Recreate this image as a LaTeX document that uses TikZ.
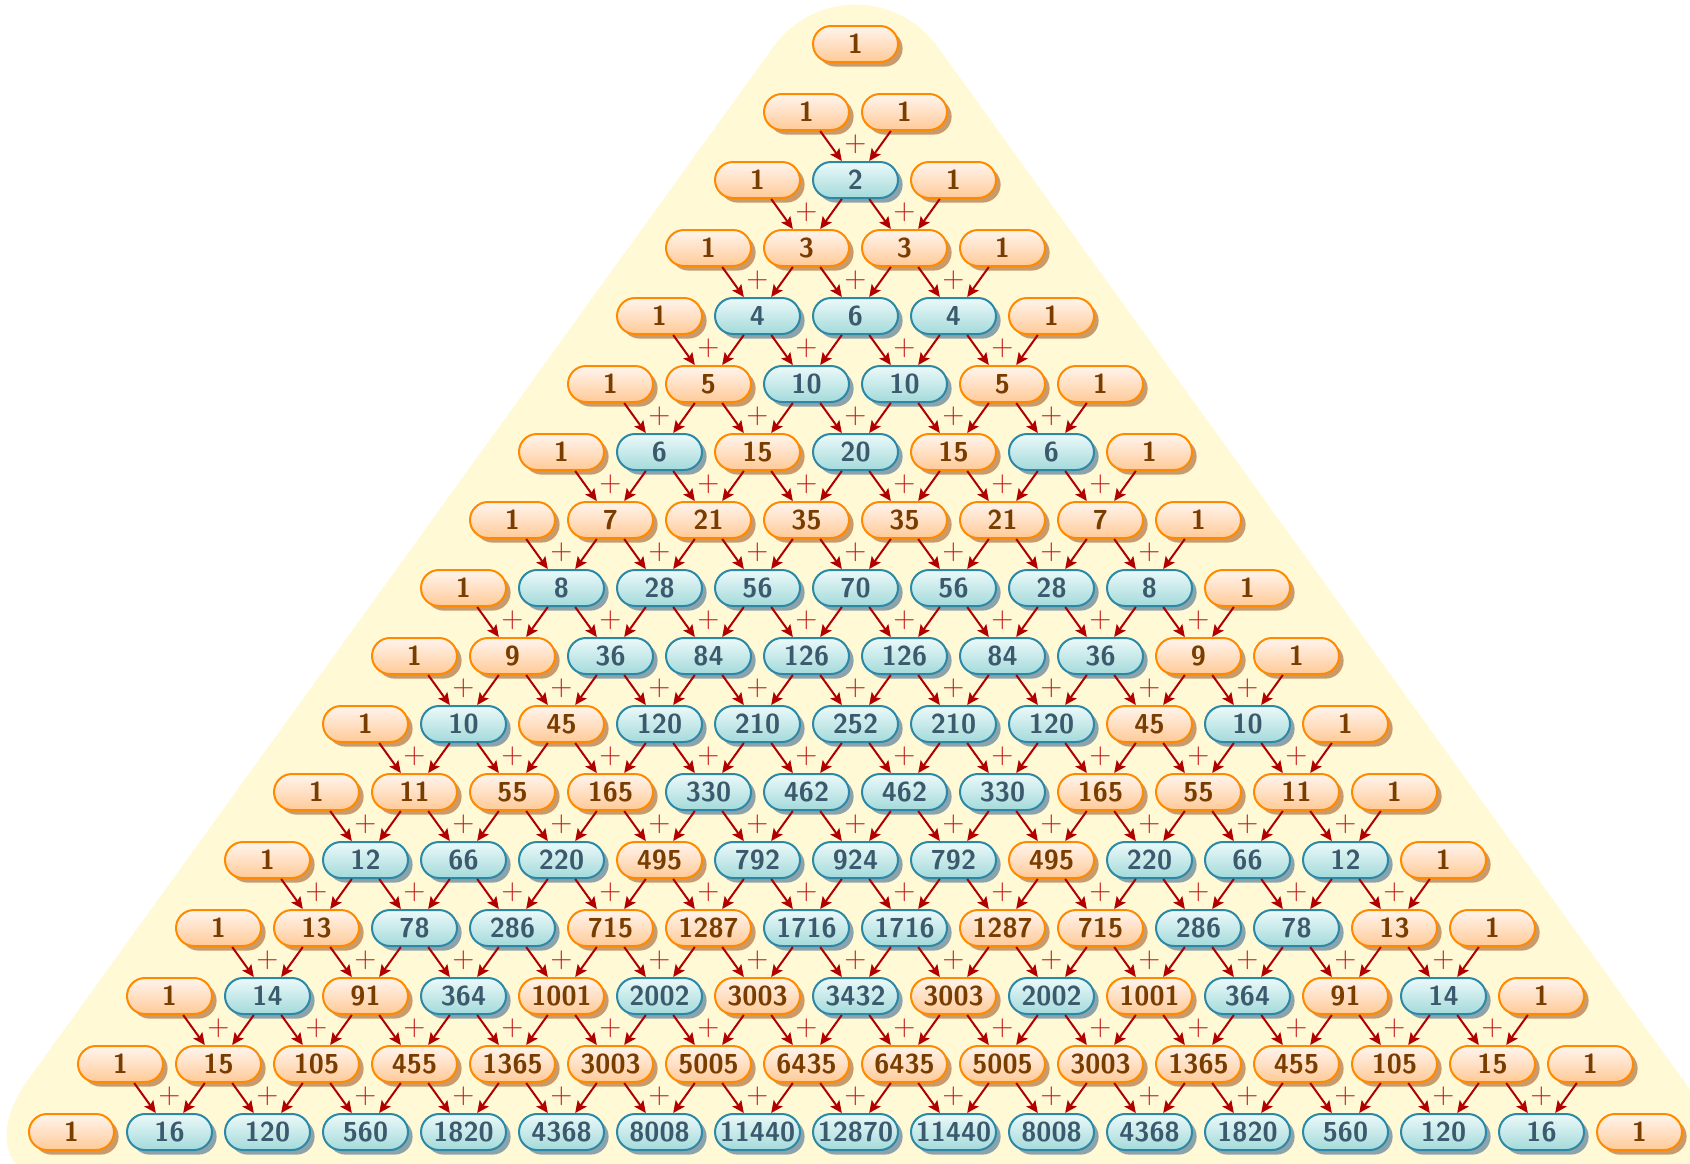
\documentclass[tikz,border=0pt]{standalone}
\usetikzlibrary{shadows,arrows.meta}
\definecolor{bgc}{HTML}{FFF9D6}
\definecolor{oborder}{HTML}{FF8A00}
\definecolor{otop}{HTML}{FFF5EE}
\definecolor{obot}{HTML}{FFCA98}
\definecolor{oshadow}{HTML}{C89A6C}
\definecolor{otext}{HTML}{7A3D00}
\definecolor{bborder}{HTML}{2B88A6}
\definecolor{btop}{HTML}{ECF9F9}
\definecolor{bbot}{HTML}{A4DADB}
\definecolor{bshadow}{HTML}{8DA3AB}
\definecolor{btext}{HTML}{3C5A6E}
\definecolor{arrred}{HTML}{B00000}
\definecolor{plusred}{HTML}{C41818}
\begin{document}
\begin{tikzpicture}[x=0.5pt,y=-0.5pt,
  box/.style={rectangle, rounded corners=9pt, minimum width=42.5pt, minimum height=18pt,
    inner sep=0pt, line width=1pt, font=\fontsize{13.7pt}{16pt}\selectfont\sffamily\bfseries},
  oddbox/.style={box, drop shadow={shadow xshift=2.3pt, shadow yshift=-2.3pt, fill=oshadow, opacity=1},
    draw=oborder, top color=otop, bottom color=obot, text=otext},
  evenbox/.style={box, drop shadow={shadow xshift=2.3pt, shadow yshift=-2.3pt, fill=bshadow, opacity=1},
    draw=bborder, top color=btop, bottom color=bbot, text=btext},
  arr/.style={draw=arrred, line width=1pt, -{Stealth[length=6pt,width=5.5pt,inset=1.2pt]}},
  plus/.style={text=plusred, font=\fontsize{14.5pt}{17pt}\selectfont, inner sep=0pt}]
\useasboundingbox (0,0) rectangle (1690,1163);
\fill[bgc] (773.6,46.5) .. controls (792.6,20.2) and (823.0,4.6) .. (855.5,4.6)
  .. controls (888.0,4.6) and (918.4,20.2) .. (937.4,46.5)
  [rounded corners=68pt] -- (1762.5,1190) -- (-51.5,1190) [sharp corners] -- (773.6,46.5) -- cycle;
\foreach \r in {0,...,16}{
  \gdef\cval{1}
  \foreach \k in {0,...,\r}{
    \ifnum\k>0 \xdef\cval{\the\numexpr\cval*(\r-\k+1)/\k\relax}\fi
    \ifodd\cval\relax \gdef\bst{oddbox}\else\gdef\bst{evenbox}\fi
    \node[\bst] (n-\r-\k) at ({855.5+(\k-\r/2)*98}, {44+68*\r}) {\cval};
  }
}
\foreach \r [evaluate=\r as \rm using int(\r-1)] in {2,...,16}{
  \foreach \k [evaluate=\k as \km using int(\k-1)] in {1,...,\rm}{
    \draw[arr] (n-\rm-\km) -- (n-\r-\k);
    \draw[arr] (n-\rm-\k) -- (n-\r-\k);
    \node[plus] (p-\r-\k) at ({855.5+(\k-\r/2)*98}, {44+68*\r-36}) {+};
  }
}
\end{tikzpicture}
\end{document}
